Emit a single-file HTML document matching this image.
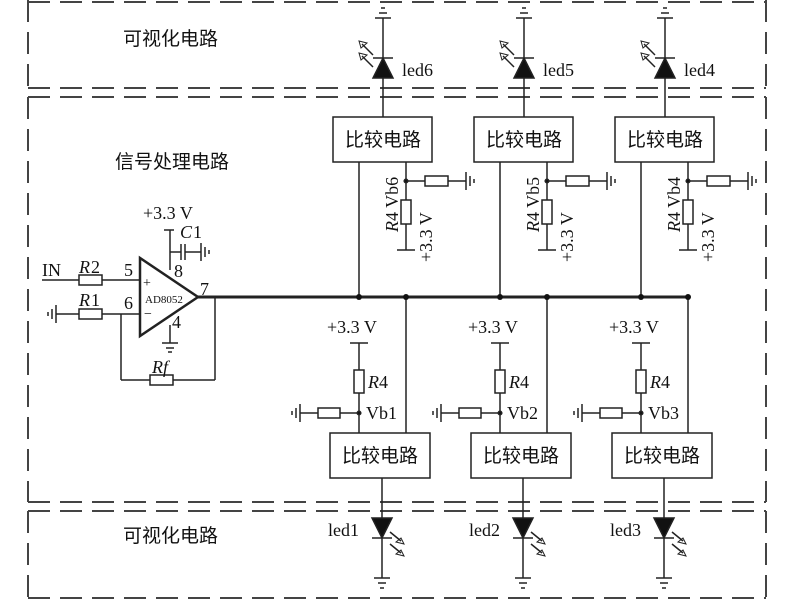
<!DOCTYPE html>
<html><head><meta charset="utf-8"><style>body{margin:0;background:#fff}svg{display:block}</style></head><body>
<svg width="800" height="600" xmlns="http://www.w3.org/2000/svg" font-family="Liberation Serif, Noto Serif CJK SC, serif" fill="none" stroke="#222" stroke-width="1.5">
<g stroke="#444" stroke-width="2" stroke-dasharray="22,10">
<line x1="28" y1="2" x2="766" y2="2"/><line x1="28" y1="88" x2="766" y2="88"/><line x1="28" y1="97" x2="766" y2="97"/>
<line x1="28" y1="502" x2="766" y2="502"/><line x1="28" y1="511" x2="766" y2="511"/><line x1="28" y1="598" x2="766" y2="598"/>
<line x1="28" y1="0" x2="28" y2="88"/><line x1="766" y1="0" x2="766" y2="88"/>
<line x1="28" y1="97" x2="28" y2="502"/><line x1="766" y1="97" x2="766" y2="502"/>
<line x1="28" y1="511" x2="28" y2="600"/><line x1="766" y1="511" x2="766" y2="600"/>
</g>
<g stroke="none" fill="#111" font-size="19" font-family="Noto Sans CJK SC, sans-serif">
<text x="123" y="45">可视化电路</text><text x="115" y="168">信号处理电路</text><text x="123" y="542">可视化电路</text></g>

<g id="U1" transform="translate(333,0)">
<line x1="50" y1="18" x2="50" y2="117"/>
<line x1="42" y1="18" x2="58" y2="18"/><line x1="46" y1="13" x2="54" y2="13"/><line x1="48" y1="8" x2="52" y2="8"/>
<polygon points="40,78 60,78 50,58" fill="#111"/><line x1="40" y1="58" x2="60" y2="58"/>
<line x1="40" y1="55" x2="29" y2="44"/><polygon points="26,41 34,43 28,48" fill="none" stroke-width="1"/>
<line x1="40" y1="67" x2="29" y2="56"/><polygon points="26,53 34,55 28,60" fill="none" stroke-width="1"/>
<rect x="0" y="117" width="99" height="45" fill="#fff"/>
<line x1="26" y1="162" x2="26" y2="297"/>
<line x1="73" y1="162" x2="73" y2="250"/><line x1="64" y1="250" x2="82" y2="250"/>
<rect x="68" y="200" width="10" height="24" fill="#fff"/>
<line x1="73" y1="181" x2="92" y2="181"/><rect x="92" y="176" width="23" height="10" fill="#fff"/><line x1="115" y1="181" x2="133" y2="181"/>
<line x1="133" y1="172" x2="133" y2="190"/><line x1="137" y1="176" x2="137" y2="186"/><line x1="141" y1="179" x2="141" y2="183"/>
<circle cx="73" cy="181" r="1.8" fill="#111"/>
</g>
<use href="#U1" x="141"/><use href="#U1" x="282"/>

<g id="L1" transform="translate(330,0)">
<line x1="76" y1="297" x2="76" y2="433"/>
<line x1="29" y1="343" x2="29" y2="433"/><line x1="20" y1="343" x2="38" y2="343"/>
<rect x="24" y="370" width="10" height="23" fill="#fff"/>
<line x1="29" y1="413" x2="10" y2="413"/><rect x="-12" y="408" width="22" height="10" fill="#fff"/><line x1="-12" y1="413" x2="-30" y2="413"/>
<line x1="-30" y1="404" x2="-30" y2="422"/><line x1="-34" y1="408" x2="-34" y2="418"/><line x1="-38" y1="411" x2="-38" y2="415"/>
<circle cx="29" cy="413" r="1.8" fill="#111"/>
<rect x="0" y="433" width="100" height="45" fill="#fff"/>
<line x1="52" y1="478" x2="52" y2="578"/>
<polygon points="42,518 62,518 52,538" fill="#111"/><line x1="42" y1="538" x2="62" y2="538"/>
<line x1="60" y1="532" x2="71" y2="541"/><polygon points="74,544 66,542 71,538" fill="none" stroke-width="1"/>
<line x1="60" y1="544" x2="71" y2="553"/><polygon points="74,556 66,554 71,550" fill="none" stroke-width="1"/>
<line x1="44" y1="578" x2="60" y2="578"/><line x1="48" y1="583" x2="56" y2="583"/><line x1="50" y1="588" x2="54" y2="588"/>
</g>
<use href="#L1" x="141"/><use href="#L1" x="282"/>

<g stroke="none" fill="#111" font-size="19" font-family="Noto Sans CJK SC, sans-serif">
<text x="383" y="146" text-anchor="middle">比较电路</text><text x="524" y="146" text-anchor="middle">比较电路</text><text x="665" y="146" text-anchor="middle">比较电路</text>
<text x="380" y="462" text-anchor="middle">比较电路</text><text x="521" y="462" text-anchor="middle">比较电路</text><text x="662" y="462" text-anchor="middle">比较电路</text>
</g>
<g stroke="none" fill="#111" font-size="18">
<text x="402" y="76">led6</text><text x="543" y="76">led5</text><text x="684" y="76">led4</text>
<text transform="translate(398,232) rotate(-90)"><tspan font-style="italic">R</tspan>4 Vb6</text>
<text transform="translate(432,262) rotate(-90)">+3.3 V</text>
<text transform="translate(539,232) rotate(-90)"><tspan font-style="italic">R</tspan>4 Vb5</text>
<text transform="translate(573,262) rotate(-90)">+3.3 V</text>
<text transform="translate(680,232) rotate(-90)"><tspan font-style="italic">R</tspan>4 Vb4</text>
<text transform="translate(714,262) rotate(-90)">+3.3 V</text>
<text x="327" y="333">+3.3 V</text><text x="468" y="333">+3.3 V</text><text x="609" y="333">+3.3 V</text>
<text x="368" y="388"><tspan font-style="italic">R</tspan>4</text><text x="509" y="388"><tspan font-style="italic">R</tspan>4</text><text x="650" y="388"><tspan font-style="italic">R</tspan>4</text>
<text x="366" y="419">Vb1</text><text x="507" y="419">Vb2</text><text x="648" y="419">Vb3</text>
<text x="328" y="536">led1</text><text x="469" y="536">led2</text><text x="610" y="536">led3</text>
</g>

<line x1="198" y1="297" x2="690" y2="297" stroke-width="3"/>
<g fill="#111" stroke="none"><circle cx="359" cy="297" r="3"/><circle cx="406" cy="297" r="3"/><circle cx="500" cy="297" r="3"/><circle cx="547" cy="297" r="3"/><circle cx="641" cy="297" r="3"/><circle cx="688" cy="297" r="3"/></g>

<polygon points="140,258 140,336 198,297" stroke-width="2.5" fill="#fff"/>
<line x1="42" y1="280" x2="79" y2="280"/><rect x="79" y="275" width="23" height="10" fill="#fff"/><line x1="102" y1="280" x2="140" y2="280"/>
<line x1="56" y1="314" x2="79" y2="314"/><rect x="79" y="309" width="23" height="10" fill="#fff"/><line x1="102" y1="314" x2="140" y2="314"/>
<line x1="56" y1="305" x2="56" y2="323"/><line x1="52" y1="309" x2="52" y2="319"/><line x1="48" y1="312" x2="48" y2="316"/>
<line x1="121" y1="314" x2="121" y2="380"/><line x1="121" y1="380" x2="150" y2="380"/><rect x="150" y="375" width="23" height="10" fill="#fff"/><line x1="173" y1="380" x2="215" y2="380"/><line x1="215" y1="380" x2="215" y2="297"/>
<line x1="170" y1="230" x2="170" y2="270"/><line x1="164" y1="230" x2="174" y2="230"/>
<line x1="170" y1="252" x2="181" y2="252"/><line x1="181" y1="244" x2="181" y2="260"/><line x1="185" y1="244" x2="185" y2="260"/><line x1="185" y1="252" x2="201" y2="252"/>
<line x1="201" y1="243" x2="201" y2="261"/><line x1="205" y1="247" x2="205" y2="257"/><line x1="209" y1="250" x2="209" y2="254"/>
<line x1="170" y1="325" x2="170" y2="343"/><line x1="162" y1="343" x2="178" y2="343"/><line x1="166" y1="348" x2="174" y2="348"/><line x1="168" y1="352" x2="172" y2="352"/>
<g stroke="none" fill="#111" font-size="18">
<text x="143" y="219">+3.3 V</text><text x="180" y="238" font-style="italic">C</text><text x="193" y="238">1</text>
<text x="42" y="276">IN</text><text x="79" y="273" font-style="italic">R</text><text x="91" y="273">2</text>
<text x="79" y="306" font-style="italic">R</text><text x="91" y="306">1</text>
<text x="124" y="276">5</text><text x="124" y="309">6</text><text x="174" y="277">8</text><text x="200" y="295">7</text><text x="172" y="328">4</text>
<text x="152" y="373" font-style="italic">Rf</text>
<text x="143" y="287" font-size="14">+</text><text x="144" y="318" font-size="14">−</text>
<text x="145" y="303" font-size="11">AD8052</text>
</g>
</svg>
</body></html>
